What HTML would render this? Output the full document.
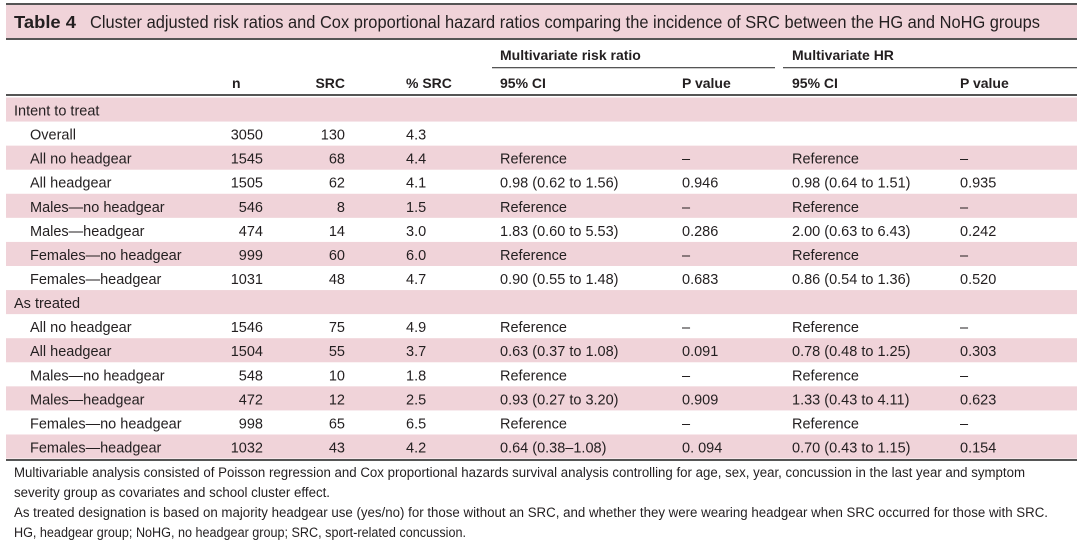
<!DOCTYPE html>
<html><head><meta charset="utf-8"><style>
html,body{margin:0;padding:0;background:#fff;width:1077px;height:548px;overflow:hidden}
svg{display:block;font-family:"Liberation Sans",sans-serif;fill:#231f20}
</style></head><body>
<svg id="t" width="1077" height="548" viewBox="0 0 1077 548">
<rect x="6" y="3" width="1071" height="2" fill="#555"/>
<rect x="6" y="5" width="1071" height="33" fill="#f0d3d9"/>
<rect x="6" y="38" width="1071" height="2" fill="#555"/>
<text x="14" y="28" font-size="17.5" font-weight="bold" textLength="62" lengthAdjust="spacingAndGlyphs">Table 4</text>
<text x="90" y="28" font-size="17.5" textLength="950" lengthAdjust="spacingAndGlyphs">Cluster adjusted risk ratios and Cox proportional hazard ratios comparing the incidence of SRC between the HG and NoHG groups</text>
<text x="500" y="60" font-size="14" font-weight="bold">Multivariate risk ratio</text>
<text x="792" y="60" font-size="14" font-weight="bold">Multivariate HR</text>
<rect x="492" y="67" width="283" height="1.3" fill="#555"/>
<rect x="783" y="67" width="294" height="1.3" fill="#555"/>
<g font-size="14" font-weight="bold">
<text x="232" y="88">n</text>
<text x="345" y="88" text-anchor="end">SRC</text>
<text x="406" y="88">% SRC</text>
<text x="500" y="88">95% CI</text>
<text x="682" y="88">P value</text>
<text x="792" y="88">95% CI</text>
<text x="960" y="88">P value</text>
</g>
<rect x="6" y="94" width="1071" height="2" fill="#555"/>
<g id="rows"></g>
<rect x="6" y="459" width="1071" height="2" fill="#555"/>
<g font-size="13.5">
<text x="14" y="477" textLength="1011" lengthAdjust="spacingAndGlyphs">Multivariable analysis consisted of Poisson regression and Cox proportional hazards survival analysis controlling for age, sex, year, concussion in the last year and symptom</text>
<text x="14" y="497" textLength="316" lengthAdjust="spacingAndGlyphs">severity group as covariates and school cluster effect.</text>
<text x="14" y="517" textLength="1034" lengthAdjust="spacingAndGlyphs">As treated designation is based on majority headgear use (yes/no) for those without an SRC, and whether they were wearing headgear when SRC occurred for those with SRC.</text>
<text x="14" y="537" textLength="452" lengthAdjust="spacingAndGlyphs">HG, headgear group; NoHG, no headgear group; SRC, sport-related concussion.</text>
</g>
</svg>
<script>
const labels=["Intent to treat","Overall","All no headgear","All headgear","Males\u2014no headgear","Males\u2014headgear","Females\u2014no headgear","Females\u2014headgear","As treated","All no headgear","All headgear","Males\u2014no headgear","Males\u2014headgear","Females\u2014no headgear","Females\u2014headgear"];
const nVals=["","3050","1545","1505","546","474","999","1031","","1546","1504","548","472","998","1032"];
const srcVals=["","130","68","62","8","14","60","48","","75","55","10","12","65","43"];
const pctVals=["","4.3","4.4","4.1","1.5","3.0","6.0","4.7","","4.9","3.7","1.8","2.5","6.5","4.2"];
const rrCI=["","","Reference","0.98 (0.62 to 1.56)","Reference","1.83 (0.60 to 5.53)","Reference","0.90 (0.55 to 1.48)","","Reference","0.63 (0.37 to 1.08)","Reference","0.93 (0.27 to 3.20)","Reference","0.64 (0.38\u20131.08)"];
const rrP=["","","\u2013","0.946","\u2013","0.286","\u2013","0.683","","\u2013","0.091","\u2013","0.909","\u2013","0. 094"];
const hrCI=["","","Reference","0.98 (0.64 to 1.51)","Reference","2.00 (0.63 to 6.43)","Reference","0.86 (0.54 to 1.36)","","Reference","0.78 (0.48 to 1.25)","Reference","1.33 (0.43 to 4.11)","Reference","0.70 (0.43 to 1.15)"];
const hrP=["","","\u2013","0.935","\u2013","0.242","\u2013","0.520","","\u2013","0.303","\u2013","0.623","\u2013","0.154"];
const NS="http://www.w3.org/2000/svg";
const g=document.getElementById('rows');
const top0=97.5,rh=24.07;
function txt(x,y,s,anchor){const t=document.createElementNS(NS,'text');t.setAttribute('x',x);t.setAttribute('y',y);t.setAttribute('font-size','14.5');if(anchor)t.setAttribute('text-anchor',anchor);t.textContent=s;g.appendChild(t);return t;}
labels.forEach((lab,i)=>{
  const y0=top0+i*rh;
  if(i%2===0){const r=document.createElementNS(NS,'rect');
    
    
    r.setAttribute('x',6);r.setAttribute('y',y0);r.setAttribute('width',1071);r.setAttribute('height',rh);r.setAttribute('fill','#f0d3d9');g.appendChild(r);}
  const by=y0+rh/2+6;
  const isSec=(nVals[i]==="");
  let t=txt(isSec?14:30,by,lab);
  
  
  if(isSec)return;
  t=txt(263,by,nVals[i],'end');
  
  
  t=txt(345,by,srcVals[i],'end');
  
  
  t=txt(406,by,pctVals[i]);
  
  
  t=txt(500,by,rrCI[i]);
  
  
  t=txt(682,by,rrP[i]);
  
  
  t=txt(792,by,hrCI[i]);
  
  
  t=txt(960,by,hrP[i]);
  
  
});
</script>
</body></html>
